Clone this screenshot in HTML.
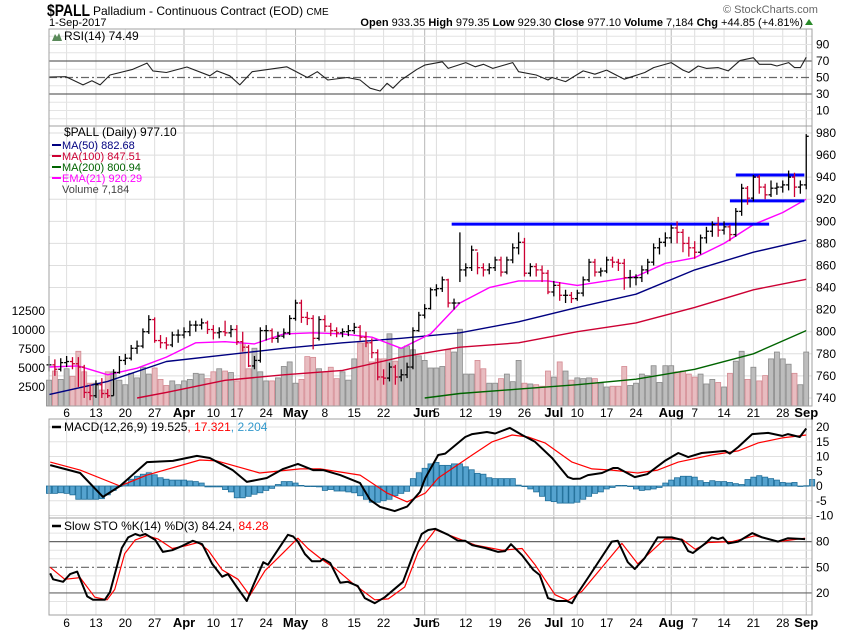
<!DOCTYPE html>
<html><head><meta charset="utf-8"><title>$PALL chart</title>
<style>
html,body{margin:0;padding:0;background:#fff;}
svg{display:block;font-family:"Liberation Sans",Arial,sans-serif;}
</style></head>
<body>
<svg id="chart" width="850" height="633" viewBox="0 0 850 633" xmlns="http://www.w3.org/2000/svg">
<g id="header">
<text x="47" y="16" font-size="17" font-weight="bold" textLength="43" lengthAdjust="spacingAndGlyphs">$PALL</text>
<text x="93" y="15" font-size="12">Palladium - Continuous Contract (EOD) <tspan font-size="10">CME</tspan></text>
<text x="49" y="26" font-size="11">1-Sep-2017</text>
<text x="723" y="13" font-size="11" fill="#666">© StockCharts.com</text>
<text x="803" y="26" font-size="11" text-anchor="end"><tspan font-weight="bold">Open</tspan> 933.35 <tspan font-weight="bold">High</tspan> 979.35 <tspan font-weight="bold">Low</tspan> 929.30 <tspan font-weight="bold">Close</tspan> 977.10 <tspan font-weight="bold">Volume</tspan> 7,184 <tspan font-weight="bold">Chg</tspan> +44.85 (+4.81%)</text>
<path d="M805 25 L809 19 L813 25 Z" fill="#2a8a2a"/>
</g>
<g id="grid"></g>
<g id="marks"></g>
<g id="frames"></g>
<g id="labels"></g>
</svg>
<script>
// ---------- data ----------
const closes = [770,766,772,773,771,768,745,742,752,744,742,763,774,776,785,787,800,811,792,790,788,797,797,800,806,806,808,802,799,800,799,802,791,786,769,774,801,801,794,796,799,812,826,813,812,794,811,805,801,799,800,801,804,795,790,781,759,758,768,759,761,768,801,815,821,838,839,847,826,826,856,858,874,858,856,858,865,854,865,876,881,853,859,856,853,836,842,833,833,830,835,847,863,854,855,865,863,862,849,849,849,856,863,876,881,885,894,890,880,876,872,885,891,897,892,895,888,909,930,921,940,931,924,930,931,933,940,931,933,977];
const highs = [778,775,776,778,777,777,770,752,756,758,748,766,778,780,788,792,803,815,813,797,795,800,802,804,810,810,812,810,806,804,810,806,806,800,788,778,804,806,803,800,803,815,829,829,818,815,814,815,808,804,803,806,808,806,800,794,784,766,772,770,766,772,804,818,825,840,843,850,848,830,890,862,878,872,862,862,868,868,868,880,890,885,862,862,860,856,846,845,838,836,838,850,866,866,858,868,868,866,866,856,852,860,866,880,885,890,897,900,893,886,882,888,895,900,904,900,897,912,934,932,942,942,934,937,935,937,946,944,937,979];
const lows = [764,760,764,768,766,750,740,738,740,740,740,742,762,770,774,780,785,798,790,785,784,786,790,794,796,800,802,798,793,794,796,795,788,782,768,766,772,792,790,790,794,797,810,808,806,784,792,800,796,795,795,796,798,792,786,776,756,752,755,752,755,758,766,800,812,820,832,836,822,820,845,850,855,852,850,852,855,850,852,862,870,850,850,850,845,834,832,828,826,826,828,832,845,850,850,853,858,855,838,840,842,845,852,860,870,877,880,880,872,868,866,870,880,886,886,888,882,886,905,915,918,925,920,922,924,926,928,922,925,929];
const volumes = [3400,4600,3500,4900,3900,7200,4500,3000,3000,2100,4500,4500,3400,2800,4300,3700,5100,4200,5000,3500,2700,3300,2800,3300,3500,4300,4200,3600,4500,4900,4600,4400,3300,8300,4900,7600,4500,3300,3300,3700,5200,5800,3000,3500,6500,6400,4900,4500,5100,3600,4500,3400,6200,8300,8300,5800,6200,6200,9500,5900,7600,7900,7400,6600,6000,5000,5000,5200,7400,7100,10100,4200,4200,6000,4900,3000,3000,3600,4200,3200,6000,3000,2900,2800,2600,4600,3800,5800,4600,3400,3700,3600,3700,3600,3000,2500,2600,2600,5200,2700,3000,4200,4000,5300,3100,5300,5300,4500,4600,4200,3800,4200,2900,3500,3100,2500,4300,5900,7200,3500,5100,3300,4000,6200,7100,6200,5500,4300,2800,7100];

const ma50Idx = [0,10,20,30,40,50,60,70,80,90,100,110,120,129];
const ma50Val = [743,755,773,779,785,790,794,799,809,822,834,856,872,883];
const ma100Idx = [15,20,30,40,50,60,70,80,90,100,110,120,129];
const ma100Val = [740,745,756,761,765,777,786,790,800,808,822,838,847.5];
const ma200Idx = [64,70,80,90,100,110,120,129];
const ma200Val = [740,744,748,752,757,766,780,801];
const emaIdx = [0,5,10,15,20,25,30,35,40,45,50,55,60,65,70,75,80,85,90,95,100,105,110,115,120,125,129];
const emaVal = [768,769,761,767,777,790,791,789,798,799,798,795,785,798,826,840,846,846,842,846,850,862,867,880,897,908,920];

const rsiIdx = [0,2.9,5.8,7.3,8.7,10.4,14.3,16.7,17.7,20,23.5,27.4,28.6,30.8,32.5,34.6,40.5,44,45.7,47.5,50.8,53,54.7,56.4,57.6,58.6,60,62.7,64,67,68,71,72.6,74,75.6,79,80,83,85,85.7,88,91,93,95,98,101.5,103,106,108,109,110.6,112,114,115.7,117.7,120,121,123,124,126,127,128,129];
const rsiVal = [50.6,51,41,46,41,53,60,67.5,58,56,62.7,52,58,52,41,57,63,50,57,47,50,47,37,33.6,43,37,47,60,65,69,61,68,63,66,61,68,57,53,47,50,45,58,54,59,48,56,62,68,59,56,64,61,62,58,70.5,74,66,66,64,68,62,62,74.5];

const macdIdx = [0.2,5.3,9.2,12.1,16.7,21.1,25.2,27.4,31.3,33.7,37.1,39.9,42.4,45,46.7,49.6,53,54.7,56.4,58.9,61,63.2,64.1,66.3,67.5,70.9,72.1,74.6,76,78.5,80.6,82.8,85.7,88.4,89.3,90.5,91.8,94.2,96.1,96.9,99.8,101.9,104.9,107.2,108.9,111.2,115.2,116,117.4,119.8,122.5,124.9,125.9,127.9,129];
const macdVal = [7.1,4.4,-3.7,0,8.1,8.5,10.2,9.5,5.4,1.4,2.7,5.8,7.5,5.4,5.4,3.7,1,-4.7,-7.1,-8.5,-7,-2,2.7,10.5,11,16.6,17.6,18.3,17.8,19.7,17.3,15,9.5,3,2.4,2.5,3.7,4.4,6.1,6.1,3,4,8.5,11.2,9.8,11.2,11.9,11,13.2,17.6,18,17,17.6,16.6,19.5];
const signalIdx = [0.2,5.3,12.1,16.7,25.7,28.6,35.9,42.8,46.2,53,57.6,61,64.1,66.3,72.1,75.5,78.9,81.6,84.5,89.1,92.5,95.9,100.3,103.7,107.2,112.9,117.4,120.8,124.9,129];
const signalVal = [8.1,5.4,0,3.7,8.8,8.5,4.4,5.8,5.8,3.7,-2.4,-5.4,-2.4,2.7,10.5,15,17.3,16.6,14.6,8.1,5.8,5.4,4.4,5.4,8.1,10.5,11.9,14.6,16.3,17.3];
const histData = [-2.5,-2.5,-2.3,-2.5,-3,-4.5,-4.5,-4.5,-4.5,-4.3,-3,-1.5,0,1,2.3,3.3,4,4.5,3.8,2.8,2.3,2,2,2,1.7,1.5,1,-0.3,-0.3,-0.3,-1.2,-2,-4,-4,-3.5,-2.8,-2.3,-1.5,-0.8,0.5,1.5,1.5,1,0.2,-0.2,-0.2,-0.3,-1.5,-1.2,-1.7,-1.7,-2,-2.3,-3.3,-4.5,-5.5,-5.5,-5,-4.5,-3.3,-2.5,-1.8,2.5,4.5,6,7.5,8,7,7,7.5,7.5,6.5,5.5,4.3,4,2.8,2.5,2.5,2.5,2.5,0.3,-0.2,-1,-2,-3.5,-5,-5.3,-5.8,-5.8,-5.8,-5.5,-4.5,-3.5,-2.5,-2,-1,-0.5,0.2,0.2,-0.2,-1,-1.5,-1.3,-1,-0.5,1,2,2.8,3.3,3.3,3,1.8,1.2,1.8,1.5,1.5,1.2,0.8,0.5,2.2,3,3.5,3,2.5,2,1.2,1,1.2,-0.1,0.1,2.2];

const kIdx = [0.2,0.7,2.4,3.6,4.8,6.5,7.5,9.5,10.4,12.4,13.5,14.7,15.5,16.4,18.1,19.4,21,22.7,24.5,26.1,27.8,29.5,30.5,32,33.7,34.8,36.5,37.3,40.7,41.6,42.4,43.6,44.8,46.2,46.7,47.9,49.6,50.9,52.6,53.8,55.5,57.2,60.3,62,63.5,64.6,65.8,68,69.7,70.9,72.1,74.3,76.5,77.7,78.7,80.6,82.5,83.6,85,86.5,88.2,89.1,90.1,91.8,95.9,96.9,98.6,99.8,101.5,103.7,106.1,107.8,108.9,109.7,111.8,112.9,114,114.8,115.7,117.4,119.8,121.5,124.2,125.9,128.8];
const kVal = [43,36,33,42,45,16,12,12,21,72.6,85,89,87,89,82,68,70,75,81,77,54,39,42,27,10.6,29,56,53,88,86,80,65.5,57,57,60,55,32,33,28,14,8,15,33,64,89,93.6,95,88,81,81,76,72.6,68,69,77,64,47,41,14,10.6,10.6,8,20,37.5,80,81,56,48,61,85,85,82,69,66.7,78,85,83,85,78,80,90,85,80,84,83];
const dIdx = [0.2,2.7,5.3,7.8,9.9,11.2,12.9,14.7,16.7,18.6,21,23.2,25.4,27.1,29.5,32.2,34.2,36.8,39.9,42.4,44.1,46.5,48.7,51.6,55.5,57.8,60.6,62.9,65.4,65.8,69.2,72.6,77.2,80.6,82.8,86.2,88.4,90.8,97.6,100.3,104.9,107.8,110.1,112.3,116.4,120.3,124.2,128.8];
const dVal = [50,36,38,15,12,24,66,82,87,83,72,75,79,70,47,36,17,46,67,84,72,59,49,32,12,13,27,68,90,94,85,76,70,72,53,18,11,22,78,54,83,83,71,79,80,87,80,84];

const priceTicks = [740,760,780,800,820,840,860,880,900,920,940,960,980];
const volTicks = [2500,5000,7500,10000,12500];
const rsiTicks = [90,70,50,30,10];
const macdTicks = [20,15,10,5,0,-5,-10];
const stoTicks = [80,50,20];
const resistanceLevels = [{p:897.5,a:68.6,b:122},{p:942,a:117,b:128},{p:918.5,a:116,b:128}];

// ---------- geometry ----------
const X0=49, X1=812, STEP=5.87;
const xAt = i => X0 + i*STEP;
const yP = v => 133 + (980-v)*1.104;
const yV = v => 406 - v*0.0076;
const yR = v => 61 + (70-v)*0.825;
const yM = v => 486 - v*2.95;
const yS = v => 567.3 - (v-50)*0.855;
const panels = [{n:'rsi-panel',t:29,b:126},{n:'price-panel',t:126,b:406},{n:'macd-panel',t:419,b:518},{n:'sto-panel',t:518,b:615}];

const NS='http://www.w3.org/2000/svg';
function mk(tag, attrs, parent){const e=document.createElementNS(NS,tag);for(const k in attrs)e.setAttribute(k,attrs[k]);parent.appendChild(e);return e;}
const G=document.getElementById('grid'), M=document.getElementById('marks'), F=document.getElementById('frames'), L=document.getElementById('labels');

// trading dates
const holidays=['2017-04-14','2017-05-29','2017-07-04'];
const dates=[];
for(let d=new Date(Date.UTC(2017,2,1)); dates.length<130; d.setUTCDate(d.getUTCDate()+1)){
  const wd=d.getUTCDay(); const s=d.toISOString().slice(0,10);
  if(wd===0||wd===6||holidays.includes(s)) continue;
  dates.push(new Date(d.getTime()));
}
const monNames=['Jan','Feb','Mar','Apr','May','Jun','Jul','Aug','Sep','Oct','Nov','Dec'];
const monthIdx=[];
for(let i=1;i<dates.length;i++) if(dates[i].getUTCMonth()!==dates[i-1].getUTCMonth()) monthIdx.push(i);
const ticks=[];
for(let i=1;i<dates.length;i++){
  const d=dates[i], p=dates[i-1];
  if(monthIdx.includes(i)){ ticks.push({i, label:monNames[d.getUTCMonth()], month:true}); continue; }
  const weekStart = d.getUTCDay() < p.getUTCDay();
  if(!weekStart) continue;
  const near = monthIdx.some(m=>(m-i>=1 && m-i<=2) || (i-m===1));
  ticks.push({i, label:String(d.getUTCDate()), month:false, hide:near});
}

// vertical grid
panels.forEach(p=>{
  ticks.forEach(t=>{
    const l=mk('line',{x1:xAt(t.i),x2:xAt(t.i),y1:p.t,y2:p.b,stroke:t.month?'#b8b8b8':'#dedede','stroke-width':1},G);
    
    
  });
});
// horizontal grids
priceTicks.forEach(v=>{const l=mk('line',{x1:X0,x2:X1,y1:yP(v),y2:yP(v),stroke:'#dedede'},G);
  
  });
[100,90,80,60,40,20,10,0].forEach(v=>{const l=mk('line',{x1:X0,x2:X1,y1:yR(v),y2:yR(v),stroke:'#e4e4e4'},G);
  
  });
[20,15,10,5,-5,-10].forEach(v=>{const l=mk('line',{x1:X0,x2:X1,y1:yM(v),y2:yM(v),stroke:'#e0e0e0'},G);
  
  });
[90,70,60,40,30,10].forEach(v=>{const l=mk('line',{x1:X0,x2:X1,y1:yS(v),y2:yS(v),stroke:'#e4e4e4'},G);
  
  });

// reference lines
[[70,'none'],[30,'none'],[50,'8,3,2,3']].forEach(([v,da])=>{
  const l=mk('line',{x1:X0,x2:X1,y1:yR(v),y2:yR(v),stroke:'#666','stroke-width':1.2,'stroke-dasharray':da},M);
  
  
});
[[80,'none'],[20,'none'],[50,'8,3,2,3']].forEach(([v,da])=>{
  const l=mk('line',{x1:X0,x2:X1,y1:yS(v),y2:yS(v),stroke:'#666','stroke-width':1.2,'stroke-dasharray':da},M);
  
  
});

function polyline(idx, vals, yf, color, w, name){
  const pts=idx.map((i,k)=>xAt(i).toFixed(1)+','+yf(vals[k]).toFixed(1)).join(' ');
  const p=mk('polyline',{points:pts,fill:'none',stroke:color,'stroke-width':w,'stroke-linejoin':'round'},M);
  
  
  return p;
}

// volume bars
volumes.forEach((v,i)=>{
  const down = i>0 && closes[i]<closes[i-1];
  const r=mk('rect',{x:xAt(i)-2.5,y:yV(v),width:5,height:406-yV(v),fill:down?'#e8bcc0':'#bdbdbd',stroke:down?'#d48a92':'#8a8a8a','stroke-width':0.8},M);
  
  
});

// MAs
polyline(ma200Idx,ma200Val,yP,'#006400',1.4,'ma200-line');
polyline(ma100Idx,ma100Val,yP,'#cc0033',1.4,'ma100-line');
polyline(ma50Idx,ma50Val,yP,'#000080',1.4,'ma50-line');
polyline(emaIdx,emaVal,yP,'#ff00ff',1.4,'ema21-line');

// resistance lines
resistanceLevels.forEach(r=>{
  const l=mk('line',{x1:xAt(r.a),x2:xAt(r.b)+4,y1:yP(r.p),y2:yP(r.p),stroke:'#0000ff','stroke-width':3},M);
  
  
});

// OHLC bars
closes.forEach((c,i)=>{
  const o = i>0?closes[i-1]:c;
  const down = i>0 && c<closes[i-1];
  const col = down?'#cc0033':'#000';
  const x=xAt(i);
  const g=mk('g',{stroke:col,'stroke-width':1.3},M);
  
  
  mk('line',{x1:x,x2:x,y1:yP(highs[i]),y2:yP(lows[i])},g);
  mk('line',{x1:x-2.5,x2:x,y1:yP(o),y2:yP(o)},g);
  mk('line',{x1:x,x2:x+2.5,y1:yP(c),y2:yP(c)},g);
});

// RSI
polyline(rsiIdx,rsiVal,yR,'#222',1.1,'rsi-line');

// MACD histogram
histData.forEach((v,i)=>{
  const y0=yM(0), y1=yM(v);
  const r=mk('rect',{x:xAt(i)-2.6,y:Math.min(y0,y1),width:5.2,height:Math.max(0.5,Math.abs(y1-y0)),fill:'#55a3cf',stroke:'#1f6e99','stroke-width':0.8},M);
  
  
});
polyline(signalIdx,signalVal,yM,'#ff0000',1.2,'macd-signal-line');
polyline(macdIdx,macdVal,yM,'#000',2,'macd-line');

// Stochastic
polyline(dIdx,dVal,yS,'#ff0000',1.2,'sto-d-line');
polyline(kIdx,kVal,yS,'#000',2,'sto-k-line');

// frames
panels.forEach(p=>{
  const r=mk('rect',{x:X0,y:p.t,width:X1-X0,height:p.b-p.t,fill:'none',stroke:'#a0a0a0','stroke-width':1},F);
  
  
});

function txt(x,y,s,attrs,name){
  const t=mk('text',Object.assign({x:x,y:y,'font-size':12},attrs||{}),L);
  t.textContent=s;
  
  
  return t;
}
// axis labels
priceTicks.forEach(v=>txt(816,yP(v)+4,String(v),{},'price-tick-label'));
volTicks.forEach(v=>txt(45,yV(v)+4,String(v),{'text-anchor':'end'},'volume-tick-label'));
rsiTicks.forEach(v=>txt(816,yR(v)+4,String(v),{},'rsi-tick-label'));
macdTicks.forEach(v=>txt(816,yM(v)+4,String(v),{},'macd-tick-label'));
stoTicks.forEach(v=>txt(816,yS(v)+4,String(v),{},'sto-tick-label'));
[417,627].forEach(yy=>{
  ticks.filter(t=>!t.hide).forEach(t=>txt(xAt(t.i),yy,t.label,{'text-anchor':'middle','font-weight':t.month?'bold':'normal','font-size':t.month?13:12},'date-tick-label'));
});

// legends
txt(64,40,'RSI(14) 74.49',{'font-size':12},'rsi-legend');
const ic=mk('path',{d:'M52 41 L55 34 L57 37 L59 33 L62 41 Z',fill:'#5a8a5a'},L);


const lg=[['$PALL (Daily) 977.10','#000',136,12],['MA(50) 882.68','#000080',149,11],['MA(100) 847.51','#cc0033',160,11],['MA(200) 800.94','#006400',171,11],['EMA(21) 920.29','#ff00ff',182,11],['Volume 7,184','#444',193,11]];
lg.forEach((l,k)=>{
  txt(k===0?64:62,l[2],l[0],{'font-size':l[3],fill:k===0?'#000':l[1]},'price-legend-entry');
  if(k>0&&k<5){const s=mk('line',{x1:52,x2:61,y1:l[2]-4,y2:l[2]-4,stroke:l[1],'stroke-width':2},L);
    
    }
});
const mt=txt(64,431,'',{'font-size':12},'macd-legend');
mt.innerHTML='MACD(12,26,9) 19.525<tspan fill="#ff0000">, 17.321</tspan><tspan fill="#3399cc">, 2.204</tspan>';
const ms=mk('line',{x1:52,x2:61,y1:427,y2:427,stroke:'#000','stroke-width':2.5},L);


const st=txt(64,530,'',{'font-size':12},'sto-legend');
st.innerHTML='Slow STO %K(14) %D(3) 84.24, <tspan fill="#ff0000">84.28</tspan>';
const ss=mk('line',{x1:52,x2:61,y1:526,y2:526,stroke:'#000','stroke-width':2.5},L);


</script>
</body></html>
